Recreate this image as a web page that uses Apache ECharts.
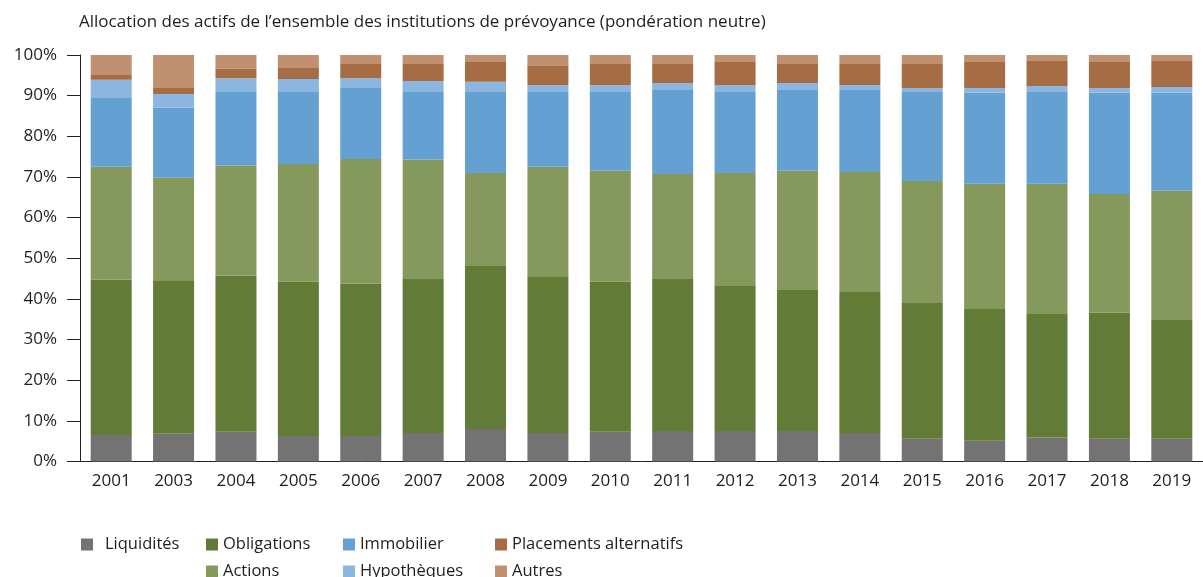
<!DOCTYPE html>
<html><head><meta charset="utf-8">
<script src="https://cdn.jsdelivr.net/npm/echarts@6/dist/echarts.min.js"></script>
<style>html,body{margin:0;padding:0;background:#fff}#c{width:1203px;height:577px}</style>
</head><body><div id="c"></div>
<script>
const years = ['2001','2003','2004','2005','2006','2007','2008','2009','2010','2011','2012','2013','2014','2015','2016','2017','2018','2019'];
const liquidites   = [6.5,6.8,7.3,6.3,6.3,7.0,8.0,7.0,7.3,7.5,7.5,7.5,7.0,5.6,5.1,5.9,5.6,5.6];
const obligations  = [38.2,37.6,38.4,37.9,37.4,37.9,40.1,38.4,36.9,37.4,35.7,34.7,34.7,33.4,32.4,30.4,31.0,29.2];
const actions      = [27.8,25.4,27.1,29.0,30.7,29.4,22.9,27.1,27.3,25.8,27.8,29.3,29.5,30.0,30.8,32.0,29.2,31.8];
const immobilier   = [16.9,17.2,18.1,17.7,17.5,16.8,19.9,18.4,19.4,20.7,20.1,19.9,20.2,21.9,22.4,22.6,24.9,24.1];
const hypotheques  = [4.5,3.4,3.4,3.2,2.4,2.5,2.5,1.7,1.7,1.7,1.5,1.7,1.2,1.0,1.2,1.5,1.2,1.4];
const placements   = [1.2,1.5,2.3,2.9,3.5,4.2,4.9,4.9,5.2,4.9,5.7,4.9,5.4,6.1,6.4,6.1,6.4,6.4];
const autres       = [4.9,8.1,3.4,3.0,2.2,2.2,1.7,2.5,2.2,2.0,1.7,2.0,2.0,2.0,1.7,1.5,1.7,1.5];
const yTicks = [0,10,20,30,40,50,60,70,80,90,100];
const seriesNames = ['Liquidités','Obligations','Actions','Immobilier','Hypothèques','Placements alternatifs','Autres'];

const seriesData = [liquidites, obligations, actions, immobilier, hypotheques, placements, autres];
const colors = ['#737373','#627b37','#86995d','#65a0d2','#8ab6df','#a66d44','#c09070'];
const FONT = 'Open Sans';
const TXT = '#1e1e1e';

const legendPos = {
  'Liquidités': [81, 536, 7],
  'Obligations': [206, 536, 0],
  'Actions': [206, 563, 0],
  'Immobilier': [343, 536, 0],
  'Hypothèques': [343, 563, 0],
  'Placements alternatifs': [495, 536, 0],
  'Autres': [495, 563, 0]
};
const legends = seriesNames.map(n => ({
  data: [n], left: legendPos[n][0], top: legendPos[n][1],
  icon: 'rect', itemWidth: 12, itemHeight: 12, padding: 0, selectedMode: false,
  textStyle: {fontFamily: FONT, fontSize: 16.5, color: TXT, lineHeight: 12, padding: [0,0,0,legendPos[n][2]]}
}));

const chart = echarts.init(document.getElementById('c'), null, {renderer: 'canvas'});
chart.setOption({
  animation: false,
  color: colors,
  title: {text: 'Allocation des actifs de l\u2019ensemble des institutions de prévoyance (pondération neutre)',
    left: 79, top: 14, padding: 0,
    textStyle: {fontFamily: FONT, fontSize: 17, fontWeight: 'normal', color: TXT}},
  legend: legends,
  grid: {left: 80, top: 55, height: 406.5, width: 1130, containLabel: false},
  xAxis: {
    type: 'category', data: years,
    axisLine: {lineStyle: {color: '#222', width: 1}},
    axisTick: {inside: true, length: 10, lineStyle: {color: '#222'}},
    axisLabel: {fontFamily: FONT, fontSize: 17, color: TXT, margin: 11, interval: 0}
  },
  yAxis: {
    type: 'value', min: 0, max: 100, interval: 10,
    axisLine: {show: true, lineStyle: {color: '#222', width: 1}},
    axisTick: {show: true, length: 13, lineStyle: {color: '#222'}},
    splitLine: {show: false},
    axisLabel: {fontFamily: FONT, fontSize: 17, color: TXT, margin: 23,
      formatter: v => yTicks.includes(v) ? v + '%' : ''}
  },
  series: seriesNames.map((n, i) => ({
    name: n, type: 'bar', stack: 'total', barWidth: 41,
    data: seriesData[i], itemStyle: {color: colors[i]}
  }))
});
</script></body></html>
